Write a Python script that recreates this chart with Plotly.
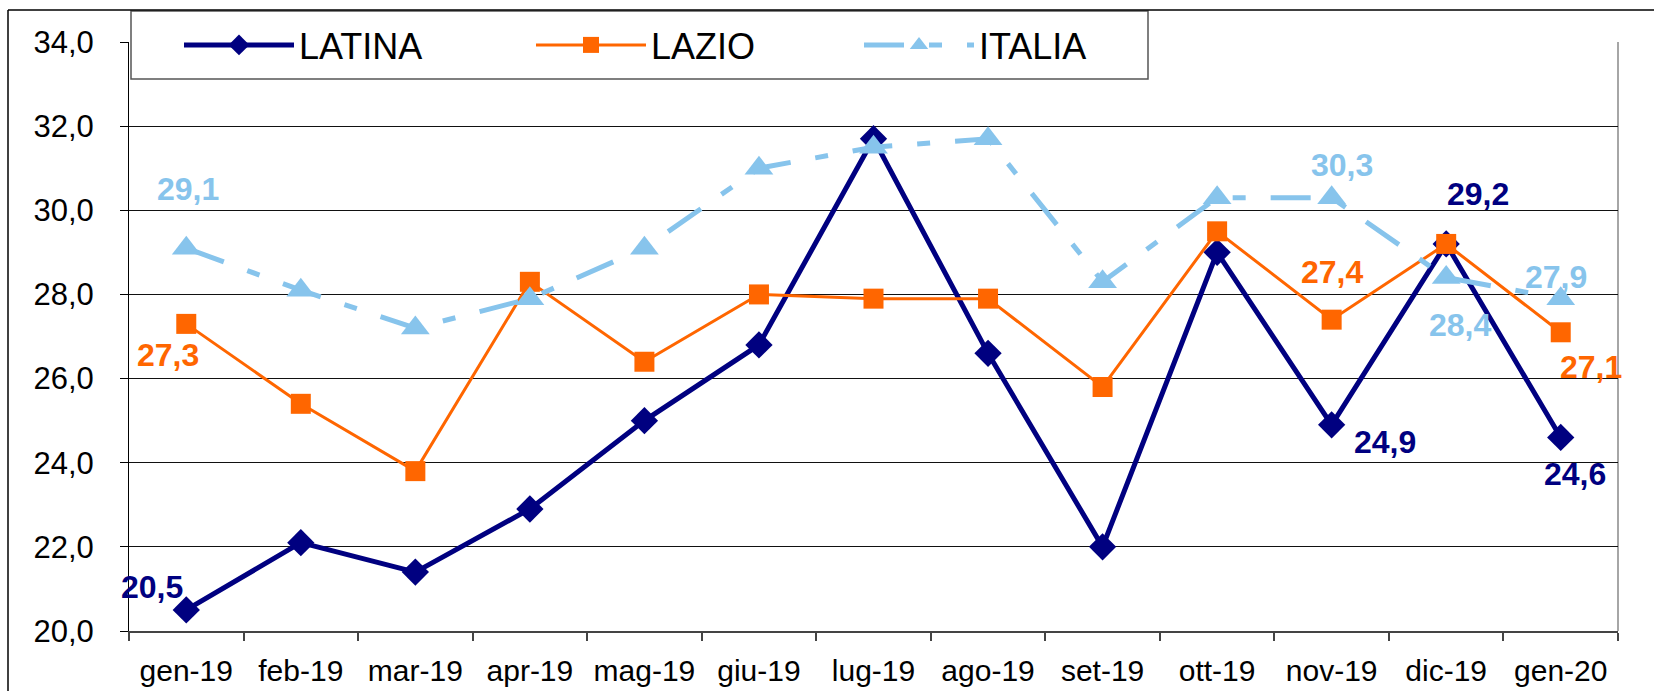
import plotly.graph_objects as go

months = ["gen-19", "feb-19", "mar-19", "apr-19", "mag-19", "giu-19", "lug-19",
          "ago-19", "set-19", "ott-19", "nov-19", "dic-19", "gen-20"]
latina = [20.5, 22.1, 21.4, 22.9, 25.0, 26.8, 31.7, 26.6, 22.0, 29.0, 24.9, 29.2, 24.6]
lazio = [27.3, 25.4, 23.8, 28.3, 26.4, 28.0, 27.9, 27.9, 25.8, 29.5, 27.4, 29.2, 27.1]
italia = [29.1, 28.1, 27.2, 27.9, 29.1, 31.0, 31.5, 31.7, 28.3, 30.3, 30.3, 28.4, 27.9]

C_LAT = "#000080"
C_LAZ = "#FF6600"
C_ITA = "#87C4EC"
FONT = "Liberation Sans, Arial, sans-serif"

fig = go.Figure()
fig.add_trace(go.Scatter(x=months, y=latina, name="LATINA", mode="lines+markers",
                         line=dict(color=C_LAT, width=5), legendwidth=227,
                         marker=dict(symbol="diamond", size=21, color=C_LAT)))
fig.add_trace(go.Scatter(x=months, y=lazio, name="LAZIO", mode="lines+markers",
                         line=dict(color=C_LAZ, width=3), legendwidth=203,
                         marker=dict(symbol="square", size=20, color=C_LAZ)))
fig.add_trace(go.Scatter(x=months, y=italia, name="ITALIA", mode="lines+markers",
                         line=dict(color=C_ITA, width=5, dash="40px,25px,13px,25px"),
                         legendwidth=150,
                         marker=dict(symbol="triangle-up", size=25, color=C_ITA)))

# data labels: (series values, color, index, xshift, yshift)
labels = [
    (latina, C_LAT, 0, -34, 23),
    (latina, C_LAT, 10, 53, -17),
    (latina, C_LAT, 11, 32, 50),
    (latina, C_LAT, 12, 14, -37),
    (lazio, C_LAZ, 0, -18, -31),
    (lazio, C_LAZ, 10, 0, 48),
    (lazio, C_LAZ, 12, 30, -35),
    (italia, C_ITA, 0, 2, 59),
    (italia, C_ITA, 10, 10, 33),
    (italia, C_ITA, 11, 14, -47),
    (italia, C_ITA, 12, -5, 22),
]
for vals, col, i, dx, dy in labels:
    fig.add_annotation(x=months[i], y=vals[i], xref="x", yref="y",
                       text=f"{vals[i]:.1f}".replace(".", ","), showarrow=False,
                       xshift=dx, yshift=dy,
                       font=dict(family=FONT, size=32, color=col, weight="bold"))

L, R, T, B = 129, 1618, 42, 631
W, H = 1654, 691
pw, ph = R - L, B - T


def px(xp):
    return (xp - L) / pw


def py(yp):
    return (B - yp) / ph


shapes = [
    # legend box
    dict(type="rect", xref="paper", yref="paper", x0=px(131), x1=px(1148), y0=py(79), y1=py(11),
         fillcolor="white", line=dict(color="#555", width=1.5), layer="above"),
    # outer frame
    dict(type="line", xref="paper", yref="paper", x0=px(8), x1=px(1700), y0=py(10), y1=py(10),
         line=dict(color="black", width=1.5), layer="above"),
    dict(type="line", xref="paper", yref="paper", x0=px(8), x1=px(8), y0=py(10), y1=py(720),
         line=dict(color="black", width=1.5), layer="above"),
    # right plot border
    dict(type="line", xref="paper", yref="paper", x0=1, x1=1, y0=0, y1=1,
         line=dict(color="#888", width=1.5), layer="below"),
]

fig.update_layout(
    width=W, height=H,
    margin=dict(l=L, r=W - R, t=T, b=H - B, autoexpand=False),
    paper_bgcolor="white", plot_bgcolor="white",
    separators=",.",
    font=dict(family=FONT, color="black"),
    shapes=shapes,
    showlegend=True,
    legend=dict(orientation="h", x=px(179), xanchor="left", y=py(45), yanchor="middle",
                bgcolor="rgba(0,0,0,0)", borderwidth=0, font=dict(size=36, family=FONT),
                itemwidth=110, entrywidthmode="pixels",
                itemsizing="trace"),
    xaxis=dict(type="category", range=[-0.5, 12.5], tickson="boundaries",
               ticks="outside", ticklen=8, tickcolor="#444", tickwidth=1.5,
               showline=True, linecolor="#444", linewidth=2, showgrid=False,
               ticklabelstandoff=12,
               tickfont=dict(size=30, family=FONT, color="black")),
    yaxis=dict(range=[20, 34], dtick=2, tick0=20, tickformat=".1f",
               showgrid=True, gridcolor="#111", gridwidth=1,
               showline=True, linecolor="black", linewidth=1,
               ticks="outside", ticklen=8, tickcolor="black",
               ticklabelstandoff=20,
               tickfont=dict(size=31, family=FONT, color="black"), zeroline=False),
)

fig.write_html("out.html", config={"displayModeBar": False},
               post_script="document.body.style.margin='0';document.body.style.overflow='hidden';")
